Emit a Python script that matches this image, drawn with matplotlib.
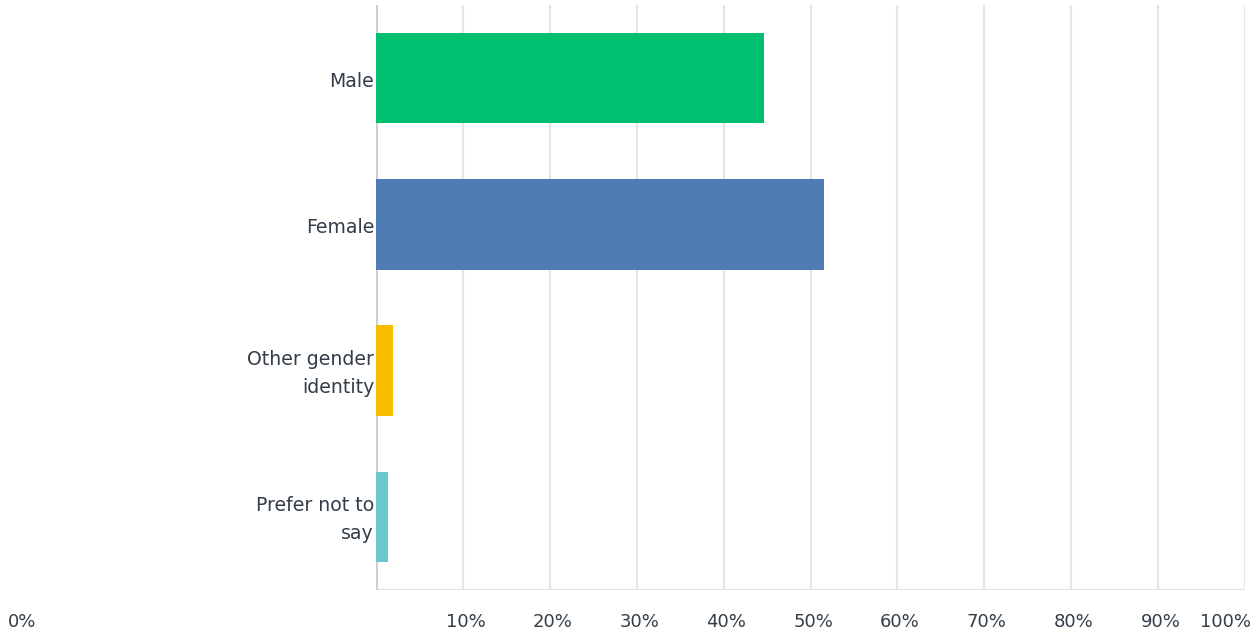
import matplotlib
matplotlib.use("Agg")
import matplotlib.pyplot as plt
import matplotlib.transforms as mtransforms

categories = ["Male", "Female", "Other gender\nidentity", "Prefer not to\nsay"]
shares = [44.6, 51.6, 2.0, 1.4]
colors = ["#00BF6F", "#507CB6", "#F9BE00", "#6BC8CD"]
ticks = [0, 10, 20, 30, 40, 50, 60, 70, 80, 90, 100]
tick_labels = ["0%", "10%", "20%", "30%", "40%", "50%", "60%", "70%", "80%", "90%", "100%"]

FONT = ["DejaVu Sans"]
FS_TICK = 13
FS_CAT = 13.6
text_color = "#333E48"

W, H = 1256, 637
fig = plt.figure(figsize=(W / 100, H / 100), dpi=100)
ax = fig.add_axes([376 / W, 1 - 590 / H, (1245 - 376) / W, (590 - 5) / H])

ypos = list(range(len(categories)))
ax.barh(ypos, shares, height=0.62, color=colors, zorder=3)
ax.set_ylim(len(categories) - 0.5, -0.5)
ax.set_xlim(0, 100)

for t in ticks[1:]:
    ax.axvline(t, color="#E6E6E6", lw=1.6, zorder=1)
ax.axhline(len(categories) - 0.5, color="#E3E3E3", lw=1.6, zorder=1)

for s in ax.spines.values():
    s.set_visible(False)
ax.axvline(0, color="#CFCFCF", lw=2.2, zorder=2)

ax.set_yticks([])
ax.set_xticks([])

# category labels, right-aligned against the value axis
for y, cat in zip(ypos, categories):
    ax.annotate(cat, xy=(0, y), xytext=(-2, -3), textcoords="offset pixels",
                ha="right", va="center", multialignment="right",
                fontsize=FS_CAT, color=text_color, fontfamily=FONT,
                linespacing=1.6, annotation_clip=False, zorder=5)

# percentage labels below the plot area
trans = mtransforms.blended_transform_factory(ax.transData, fig.transFigure)
for t, lab in zip(ticks, tick_labels):
    if t == 0:
        fig.text(22 / W, 1 - 622 / H, lab, ha="center", va="center",
                 fontsize=FS_TICK, color=text_color, fontfamily=FONT)
    elif t == 100:
        fig.text(1251 / W, 1 - 622 / H, lab, ha="right", va="center",
                 fontsize=FS_TICK, color=text_color, fontfamily=FONT)
    else:
        ax.text(t + 0.3, 1 - 622 / H, lab, transform=trans, ha="center", va="center",
                fontsize=FS_TICK, color=text_color, fontfamily=FONT)

fig.savefig("out.png", dpi=100)
